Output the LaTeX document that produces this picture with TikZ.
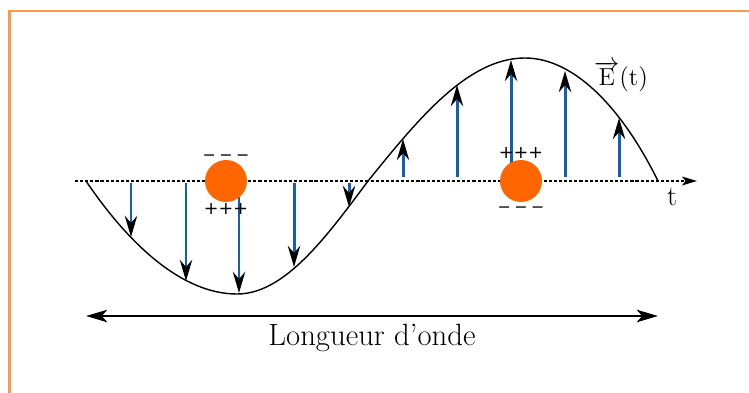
\documentclass[tikz,border=0pt]{standalone}
\usepackage{fontspec}
\newfontfamily\chargefont{DejaVu Sans}
\usetikzlibrary{arrows.meta,positioning}
\definecolor{framecol}{RGB}{250,155,70}
\definecolor{fieldblue}{RGB}{20,95,175}
\definecolor{chargeorange}{RGB}{255,102,0}

\begin{document}
\begin{tikzpicture}[x=0.02cm, y=-0.02cm]
        \tikzstyle{field}=[fieldblue, line width=1.7pt, -{Stealth[black, length=12pt, width=7pt, inset=4pt]}];
        \tikzstyle{charge}=[circle, fill=chargeorange, minimum size=0.84cm, inner sep=0pt];
        \tikzstyle{plus}=[font=\chargefont\fontsize{10}{12}\selectfont, inner sep=0pt, anchor=base];
        \tikzstyle{minus}=[font=\chargefont\fontsize{9}{11}\selectfont, inner sep=0pt, anchor=base];
        \tikzstyle{axislabel}=[font=\fontsize{14}{16}\selectfont, inner sep=0pt, anchor=base];

        \useasboundingbox (0,0) rectangle (749,392);
        \draw[framecol, line width=1.5pt] (9.5,11) rectangle (790,430);

        \coordinate (tstart) at (75,181);
        \coordinate (tend) at (697,181);
        \draw[line width=1.1pt, dash pattern=on 1.8pt off 1.1pt, -{Stealth[length=8.5pt, width=5pt, inset=2pt]}] (tstart) -- (tend);

        \coordinate (w0) at (86,181);
        \coordinate (w1) at (237,294);
        \coordinate (w2) at (368,181);
        \coordinate (w3) at (525,58);
        \coordinate (w4) at (658,181);
        \draw[line width=0.8pt] (w0) .. controls (130,246) and (183,294) .. (w1)
            .. controls (284,294) and (325,239) .. (w2)
            .. controls (419,118) and (468,58) .. (w3)
            .. controls (573,58) and (621,106) .. (w4);

        \foreach \x/\y in {131/237, 186/281, 239/293, 294/267, 349/207}
            \draw[field] (\x,183) -- (\x,\y);
        \foreach \x/\y in {403/139, 457/85, 511/60, 565/71, 619/118}
            \draw[field] (\x,177) -- (\x,\y);

        \node[charge] (c1) at (226,181) {};
        \node[charge] (c2) at (521,181) {};
        \node[minus] (c1top) at (226,160) {−\kern2pt−\kern2pt−};
        \node[plus] (c1bot) at (226,214) {+++};
        \node[plus] (c2top) at (521,158) {+++};
        \node[minus] (c2bot) at (521,212) {−\kern2pt−\kern2pt−};

        \node[axislabel] (efield) at (621,85) {$\overrightarrow{\mathrm{E}}(\mathrm{t})$};
        \node[axislabel, font=\fontsize{16}{18}\selectfont] (tlabel) at (672,205) {t};

        \coordinate (wl1) at (86,316);
        \coordinate (wl2) at (658,316);
        \draw[line width=1.5pt, {Stealth[length=12pt, width=7pt, inset=3pt]}-{Stealth[length=12pt, width=7pt, inset=3pt]}] (wl1) -- (wl2);
        \node[font=\fontsize{17.5}{21}\selectfont, inner sep=0pt, anchor=base] (wlabel) at (372,345) {Longueur d'onde};
    \end{tikzpicture}
\end{document}
